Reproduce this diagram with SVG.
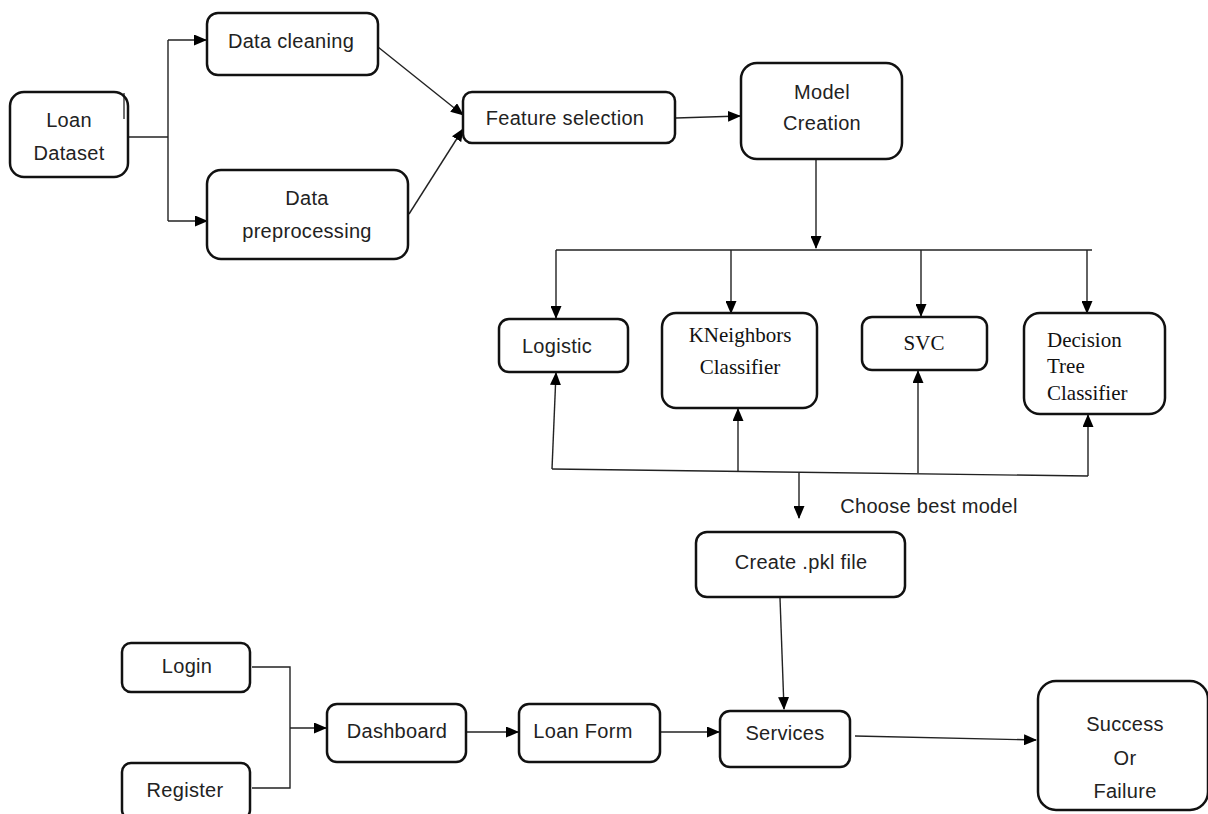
<svg xmlns="http://www.w3.org/2000/svg" width="1208" height="814" viewBox="0 0 1208 814">
<style>
.box{fill:#fff;stroke:#111;stroke-width:2.5}
.t{font-family:"Liberation Sans",Arial,sans-serif;font-size:20px;fill:#222;text-anchor:middle;letter-spacing:0.3px}
.s{font-family:"Liberation Serif","Times New Roman",serif;font-size:21px;fill:#111;text-anchor:middle}
.sl{font-family:"Liberation Serif","Times New Roman",serif;font-size:21px;fill:#111;text-anchor:start}
.c{fill:none;stroke:#222;stroke-width:1.4}
</style>
<defs>
<marker id="ah" markerWidth="13" markerHeight="11" refX="12" refY="5.5" orient="auto" markerUnits="userSpaceOnUse"><path d="M0,0 L13,5.5 L0,11 z" fill="#000"/></marker>
</defs>
<rect width="1208" height="814" fill="#fff"/>
<g id="connectors">
<path class="c" d="M128,137 H168" stroke-width="2.2"/>
<path class="c" d="M168,40 V221"/>
<path class="c" d="M168,40 H206" marker-end="url(#ah)"/>
<path class="c" d="M168,221 H207" marker-end="url(#ah)"/>
<path class="c" d="M378,47 L463,115" marker-end="url(#ah)"/>
<path class="c" d="M409,214 L463,129" marker-end="url(#ah)"/>
<path class="c" d="M676,118 L740,116" marker-end="url(#ah)"/>
<path class="c" d="M816,160 V248" marker-end="url(#ah)"/>
<path class="c" d="M556,250 H1092"/>
<path class="c" d="M556,250 V318" marker-end="url(#ah)"/>
<path class="c" d="M731,250 V313" marker-end="url(#ah)"/>
<path class="c" d="M921,250 V316" marker-end="url(#ah)"/>
<path class="c" d="M1087,250 V313" marker-end="url(#ah)"/>
<path class="c" d="M552,469 L1088,476"/>
<path class="c" d="M552,469 L556,373" marker-end="url(#ah)"/>
<path class="c" d="M738,472 V409" marker-end="url(#ah)"/>
<path class="c" d="M918,473 V371" marker-end="url(#ah)"/>
<path class="c" d="M1088,476 V415" marker-end="url(#ah)"/>
<path class="c" d="M799,473 V518" marker-end="url(#ah)"/>
<path class="c" d="M780,598 L784,709" marker-end="url(#ah)"/>
<path class="c" d="M252,667 H290 V788 H252"/>
<path class="c" d="M290,728 H326" marker-end="url(#ah)"/>
<path class="c" d="M467,732 H518" marker-end="url(#ah)"/>
<path class="c" d="M661,732 H719" marker-end="url(#ah)"/>
<path class="c" d="M855,736 L1036,740" marker-end="url(#ah)"/>
</g>
<g id="loan-dataset">
<rect class="box" x="10" y="92" width="118" height="85" rx="14"/>
<line x1="124" y1="93" x2="124" y2="119" stroke="#111" stroke-width="1.2"/>
<text class="t" x="69" y="127">Loan</text>
<text class="t" x="69" y="160">Dataset</text>
</g>
<g id="data-cleaning">
<rect class="box" x="207" y="13" width="171" height="62" rx="11"/>
<text class="t" x="291" y="48">Data cleaning</text>
</g>
<g id="data-preprocessing">
<rect class="box" x="207" y="170" width="201" height="89" rx="14"/>
<text class="t" x="307" y="205">Data</text>
<text class="t" x="307" y="238">preprocessing</text>
</g>
<g id="feature-selection">
<rect class="box" x="463" y="92" width="212" height="51" rx="9"/>
<text class="t" x="565" y="125">Feature selection</text>
</g>
<g id="model-creation">
<rect class="box" x="741" y="63" width="161" height="96" rx="16"/>
<text class="t" x="822" y="99">Model</text>
<text class="t" x="822" y="130">Creation</text>
</g>
<g id="logistic">
<rect class="box" x="499" y="319" width="129" height="53" rx="10"/>
<text class="t" x="557" y="353">Logistic</text>
</g>
<g id="kneighbors">
<rect class="box" x="662" y="313" width="155" height="95" rx="14"/>
<text class="s" x="740" y="342">KNeighbors</text>
<text class="s" x="740" y="374">Classifier</text>
</g>
<g id="svc">
<rect class="box" x="862" y="317" width="125" height="53" rx="10"/>
<text class="s" x="924" y="350">SVC</text>
</g>
<g id="decision-tree">
<rect class="box" x="1024" y="313" width="141" height="101" rx="16"/>
<text class="sl" x="1047" y="347">Decision</text>
<text class="sl" x="1047" y="373">Tree</text>
<text class="sl" x="1047" y="400">Classifier</text>
</g>
<g id="choose-label">
<text class="t" x="929" y="513">Choose best model</text>
</g>
<g id="create-pkl">
<rect class="box" x="696" y="532" width="209" height="65" rx="11"/>
<text class="t" x="801" y="569">Create .pkl file</text>
</g>
<g id="services">
<rect class="box" x="720" y="711" width="130" height="56" rx="10"/>
<text class="t" x="785" y="740">Services</text>
</g>
<g id="success">
<rect class="box" x="1038" y="681" width="170" height="129" rx="18"/>
<text class="t" x="1125" y="731">Success</text>
<text class="t" x="1125" y="765">Or</text>
<text class="t" x="1125" y="798">Failure</text>
</g>
<g id="login">
<rect class="box" x="122" y="643" width="128" height="49" rx="9"/>
<text class="t" x="187" y="673">Login</text>
</g>
<g id="register">
<rect class="box" x="122" y="763" width="128" height="56" rx="9"/>
<text class="t" x="185" y="797">Register</text>
</g>
<g id="dashboard">
<rect class="box" x="327" y="704" width="139" height="58" rx="10"/>
<text class="t" x="397" y="738">Dashboard</text>
</g>
<g id="loan-form">
<rect class="box" x="519" y="704" width="141" height="58" rx="10"/>
<text class="t" x="583" y="738">Loan Form</text>
</g>
</svg>
